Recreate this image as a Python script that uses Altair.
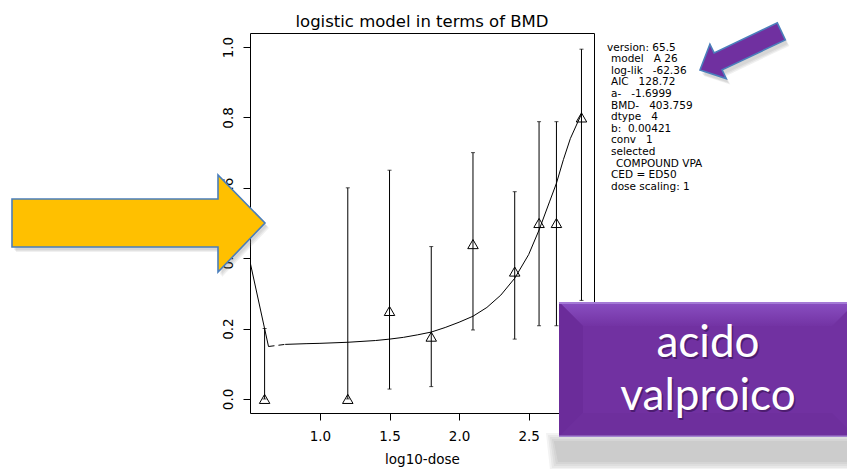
import altair as alt
import pandas as pd

# ---- observed responses (log10 dose) with confidence limits ----
log_dose = [0.602, 1.2, 1.5, 1.8, 2.1, 2.4, 2.575, 2.7, 2.88]
response = [0.0, 0.0, 0.25, 0.177, 0.44, 0.362, 0.50, 0.50, 0.80]
ci_low = [0.0, 0.0, 0.028, 0.035, 0.196, 0.17, 0.208, 0.208, 0.28]
ci_high = [0.2, 0.60, 0.65, 0.433, 0.70, 0.589, 0.788, 0.788, 0.994]

# ---- fitted logistic curve ----
fit_x = [0.75, 0.9, 1.0, 1.2, 1.4, 1.5, 1.6, 1.7, 1.8, 1.9, 2.0, 2.1, 2.2,
         2.3, 2.4, 2.5, 2.575, 2.65, 2.7, 2.75, 2.8, 2.88]
fit_y = [0.155, 0.157, 0.158, 0.161, 0.166, 0.170, 0.175, 0.182, 0.190, 0.203,
         0.218, 0.235, 0.260, 0.295, 0.343, 0.410, 0.480, 0.560, 0.613, 0.680,
         0.740, 0.810]

# steep segment toward the control group and the dashed connector
lead_x = [0.497, 0.63]
lead_y = [0.39, 0.149]
dash_x = [0.63, 0.75]
dash_y = [0.149, 0.155]

x_ticks = [1.0, 1.5, 2.0, 2.5]
y_ticks = [0.0, 0.2, 0.4, 0.6, 0.8, 1.0]

info_lines = [
    "version: 65.5",
    "model\u00a0\u00a0\u00a0A 26",
    "log-lik\u00a0\u00a0\u00a0-62.36",
    "AIC\u00a0\u00a0\u00a0128.72",
    "a-\u00a0\u00a0\u00a0-1.6999",
    "BMD-\u00a0\u00a0\u00a0403.759",
    "dtype\u00a0\u00a0\u00a04",
    "b:\u00a0\u00a00.00421",
    "conv\u00a0\u00a0\u00a01",
    "selected",
    "COMPOUND VPA",
    "CED = ED50",
    "dose scaling: 1",
]
info_indent = [0, 4, 4, 4, 4, 4, 4, 4, 4, 4, 9, 4, 4]

title_text = "logistic model in terms of BMD"
badge_lines = ["acido", "valproico"]

# ---- layout ----
W, H = 847, 469
PL, PT = 250, 33          # plot area origin
PW, PH = 344, 380         # plot area size
FONT = "DejaVu Sans"

obs = pd.DataFrame({"x": log_dose, "y": response, "lo": ci_low, "hi": ci_high})
fit = pd.DataFrame({"x": fit_x, "y": fit_y})
lead = pd.DataFrame({"x": lead_x, "y": lead_y})
dash = pd.DataFrame({"x": dash_x, "y": dash_y})
one = pd.DataFrame({"k": [0]})

xs = alt.Scale(domain=[0.497, 2.97], nice=False, zero=False)
ys = alt.Scale(domain=[-0.04, 1.04], nice=False, zero=False)

x_axis = alt.Axis(values=x_ticks, format=".1f", title="log10-dose", grid=False,
                  domain=False, tickSize=7, tickColor="black", labelColor="black",
                  labelFont=FONT, labelFontSize=13.5, labelPadding=9,
                  titleFont=FONT, titleFontSize=13.5, titleFontWeight="normal",
                  titleColor="black", titlePadding=10)
y_axis = alt.Axis(values=y_ticks, format=".1f", title=None, grid=False,
                  domain=False, tickSize=7, tickColor="black", labelColor="black",
                  labelFont=FONT, labelFontSize=13.5, labelAngle=270,
                  labelAlign="center", labelBaseline="bottom", labelPadding=8)

bars = alt.Chart(obs).mark_rule(color="black", strokeWidth=1).encode(
    x=alt.X("x:Q", scale=xs, axis=x_axis),
    y=alt.Y("lo:Q", scale=ys, axis=y_axis),
    y2="hi:Q",
)
cap_hi = alt.Chart(obs).mark_tick(orient="horizontal", size=4, thickness=1,
                                  color="black").encode(x="x:Q", y="hi:Q")
cap_lo = alt.Chart(obs).mark_tick(orient="horizontal", size=4, thickness=1,
                                  color="black").encode(x="x:Q", y="lo:Q")
tri = alt.Chart(obs).mark_point(shape="triangle-up", size=110, filled=False,
                                color="black", strokeWidth=1, opacity=1).encode(
    x="x:Q", y="y:Q")
curve = alt.Chart(fit).mark_line(color="black", strokeWidth=1, clip=True).encode(
    x="x:Q", y="y:Q")
lead_line = alt.Chart(lead).mark_line(color="black", strokeWidth=1, clip=True).encode(
    x="x:Q", y="y:Q")
dash_line = alt.Chart(dash).mark_line(color="black", strokeWidth=1,
                                      strokeDash=[6, 4], clip=True).encode(
    x="x:Q", y="y:Q")

title = alt.Chart(one).mark_text(
    align="center", baseline="alphabetic", font=FONT, fontSize=16.5, color="black",
).encode(x=alt.value(PW / 2), y=alt.value(27 - PT), text=alt.value(title_text))

layers = [bars, cap_hi, cap_lo, curve, lead_line, dash_line, tri, title]

# model summary block, one text mark per line
for i, (line, ind) in enumerate(zip(info_lines, info_indent)):
    layers.append(alt.Chart(one).mark_text(
        align="left", baseline="alphabetic", font=FONT, fontSize=10.5, color="black",
    ).encode(x=alt.value(607 - PL + ind), y=alt.value(50.5 - PT + 11.6 * i),
             text=alt.value(line)))


# ---- callout shapes (page pixel coordinates) ----
def shape(points, **style):
    path = "M" + " L".join(f"{px - PL:.1f},{py - PT:.1f}" for px, py in points) + " Z"
    return alt.Chart(one).mark_point(shape=path, size=4, filled=True, opacity=1,
                                     **style).encode(x=alt.value(0), y=alt.value(0))


def shifted(points, dx, dy):
    return [(px + dx, py + dy) for px, py in points]


yellow_arrow = [(12, 199), (218, 199), (218, 175), (265, 223), (218, 272),
                (218, 247), (12, 247)]
purple_arrow = [(700, 70), (709.9, 44.2), (714.1, 52.9), (777.3, 22.9),
                (785.3, 39.9), (722.1, 69.9), (726.2, 78.6)]

L, R, T, B, bv = 559, 856, 302, 437, 24
box_face = [(L, T), (R, T), (R, B), (L, B)]
bevel_top = [(L, T), (R, T), (R - bv, T + bv), (L + bv, T + bv)]
bevel_left = [(L, T), (L + bv, T + bv), (L + bv, B - bv), (L, B)]
bevel_bottom = [(L, B), (L + bv, B - bv), (R - bv, B - bv), (R, B)]
top_edge = [(L, T), (R, T), (R, T + 2), (L, T + 2)]
bottom_edge = [(L, B - 1.5), (R, B - 1.5), (R, B), (L, B)]

# soft shadows built from stacked translucent shapes
for i in range(5):
    g = 2 * i
    layers.append(shape([(554 - g, 441 - g), (W + 10, 441 - g), (W + 10, 462 + g),
                         (558 - g, 462 + g)],
                        fill="#7a7a7a", fillOpacity=0.09, strokeWidth=0))
for i in range(3):
    layers.append(shape(shifted(yellow_arrow, 2 + i, 3 + i),
                        fill="#808080", fillOpacity=0.12, strokeWidth=0))
    layers.append(shape(shifted(purple_arrow, 2 + i, 4 + i),
                        fill="#808080", fillOpacity=0.12, strokeWidth=0))

layers += [
    shape(yellow_arrow, fill="#FFC000", stroke="#4A7EBB", strokeWidth=1.6),
    shape(purple_arrow, fill="#7030A0", stroke="#4A7EBB", strokeWidth=1.6),
    shape(box_face, fill="#7131A1", strokeWidth=0),
    shape(bevel_top, strokeWidth=0, fill=alt.LinearGradient(
        gradient="linear", x1=0, y1=0, x2=0, y2=1,
        stops=[alt.GradientStop(color="#8A50C2", offset=0),
               alt.GradientStop(color="#7333A4", offset=1)])),
    shape(bevel_left, fill="#6B2C9A", strokeWidth=0),
    shape(bevel_bottom, fill="#6E2F9D", strokeWidth=0),
    shape(top_edge, fill="#A47AD6", strokeWidth=0),
    shape(bottom_edge, fill="#A384D0", strokeWidth=0),
]

for dx, dy, col, op in [(1.5, 1.5, "#2a0a40", 0.5), (0, 0, "white", 1.0)]:
    for line, base_y in zip(badge_lines, [357, 410]):
        layers.append(alt.Chart(one).mark_text(
            align="center", baseline="alphabetic", font="Lato", fontSize=44,
            color=col, opacity=op,
        ).encode(x=alt.value(708 - PL + dx), y=alt.value(base_y - PT + dy),
                 text=alt.value(line)))

chart = alt.layer(*layers).properties(
    width=PW, height=PH,
    autosize=alt.AutoSizeParams(type="none"),
    padding={"left": PL, "top": PT, "right": W - PL - PW, "bottom": H - PT - PH},
    background="white",
).configure_view(stroke="black", strokeWidth=1)

chart.save("out.html", embed_options={"renderer": "svg", "actions": False})
